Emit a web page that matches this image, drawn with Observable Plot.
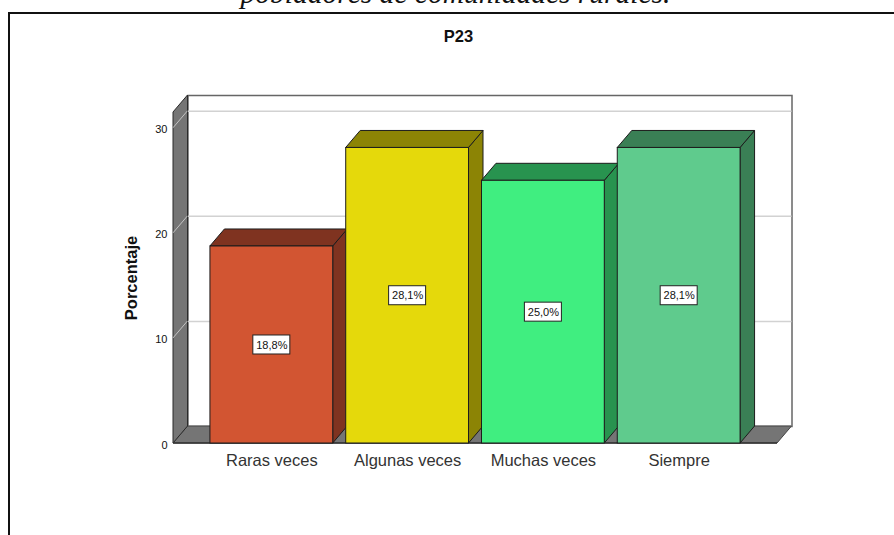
<!DOCTYPE html>
<html lang="es">
<head>
<meta charset="utf-8">
<script src="https://cdn.jsdelivr.net/npm/d3@7"></script>
<script src="https://cdn.jsdelivr.net/npm/@observablehq/plot@0.6"></script>
<style>
html,body{margin:0;padding:0;background:#fff;width:894px;height:535px;overflow:hidden;position:relative}
#panel{position:absolute;left:8px;top:12px;right:-4px;bottom:-4px;border:2px solid #111;box-sizing:border-box;pointer-events:none}
#chart{position:absolute;left:0;top:0}
</style>
</head>
<body>
<div id="chart"></div>
<div id="panel"></div>
<script>
const categories = ["Raras veces", "Algunas veces", "Muchas veces", "Siempre"];
const percentages = [18.75, 28.125, 25.0, 28.125];
const valueLabels = ["18,8%", "28,1%", "25,0%", "28,1%"];
const yTicks = [0, 10, 20, 30];
const frontColors = ["#D25532", "#E5D90B", "#40EE80", "#5FCB8D"];
const topColors = ["#7F3320", "#8C8405", "#28934F", "#3A7F55"];
const wallColor = "#757575";
const edge = "#1c1c1c";
const DX = 14.5, DY = 17;

const rows = categories.map((c, i) => ({
  category: c, value: percentages[i], label: valueLabels[i],
  front: frontColors[i], side: topColors[i]
}));

function poly(g, pts, fill, stroke, sw = 1) {
  g.append("polygon").attr("points", pts.map(p => p.join(",")).join(" "))
    .attr("fill", fill).attr("stroke", stroke).attr("stroke-width", sw).attr("stroke-linejoin", "round");
}

// left wall and floor of the 3-D box, with the grid continued across the wall
function shell(index, {y}, values, {marginLeft: l, marginTop: t, width, marginRight, height, marginBottom}) {
  const g = d3.create("svg:g");
  const r = width - marginRight, b = height - marginBottom;
  poly(g, [[l, b], [l + DX, b - DY], [r + DX, b - DY], [r, b]], wallColor, "#444");
  poly(g, [[l, t], [l + DX, t - DY], [l + DX, b - DY], [l, b]], wallColor, "#2a2a2a");
  for (const v of yTicks.slice(1)) {
    g.append("line").attr("x1", l).attr("y1", y(v)).attr("x2", l + DX).attr("y2", y(v) - DY)
      .attr("stroke", "#c4c4c4").attr("stroke-width", 1);
  }
  g.append("line").attr("x1", l).attr("y1", b).attr("x2", r).attr("y2", b).attr("stroke", "#333").attr("stroke-width", 1.5);
  return g.node();
}

// side and top faces of each bar
function barDepth(index, {x, y}) {
  const g = d3.create("svg:g");
  const w = x.bandwidth();
  for (const d of rows) {
    const x0 = x(d.category), x1 = x0 + w, yT = y(d.value), yB = y(0);
    poly(g, [[x1, yT], [x1 + DX, yT - DY], [x1 + DX, yB - DY], [x1, yB]], d.side, edge);
    poly(g, [[x0, yT], [x0 + DX, yT - DY], [x1 + DX, yT - DY], [x1, yT]], d.side, edge);
  }
  return g.node();
}

// white label boxes
function labelBoxes(index, {x, y}) {
  const g = d3.create("svg:g");
  const w = x.bandwidth();
  for (const d of rows) {
    g.append("rect").attr("x", x(d.category) + w / 2 - 18.5).attr("y", y(d.value / 2) - 9.5)
      .attr("width", 37).attr("height", 19).attr("fill", "#fff").attr("stroke", "#222").attr("stroke-width", 1);
  }
  return g.node();
}

const chart = Plot.plot({
  width: 894, height: 535,
  marginLeft: 173, marginRight: 117, marginTop: 112, marginBottom: 92,
  style: {fontFamily: "'Liberation Sans', Arial, sans-serif", background: "transparent", color: "#111"},
  x: {domain: categories, paddingInner: 0.0956, paddingOuter: 0.272, align: 0.5, round: false, label: null},
  y: {domain: [0, 31.5], label: null},
  marks: [
    Plot.frame({fill: "#fff", stroke: "#666", strokeWidth: 1.5, dx: DX, dy: -DY}),
    Plot.ruleY(yTicks, {stroke: "#d2d2d2", strokeWidth: 1.5, dx: DX, dy: -DY}),
    shell,
    barDepth,
    Plot.barY(rows, {x: "category", y: "value", fill: "front", stroke: edge, strokeWidth: 1}),
    labelBoxes,
    Plot.text(rows, {x: "category", y: d => d.value / 2, text: "label", fontSize: 11, fill: "#111"}),
    Plot.axisX({tickSize: 0, tickPadding: 11, fontSize: 16.5, fill: "#333", label: null}),
    Plot.axisY({ticks: yTicks, tickSize: 0, tickPadding: 6, dy: 1.5, fontSize: 11, fill: "#111", label: null}),
    Plot.text(["Porcentaje"], {frameAnchor: "left", textAnchor: "middle", rotate: -90, dx: -42, fontSize: 16.5, fontWeight: "bold", fill: "#111"}),
    Plot.text(["P23"], {frameAnchor: "top", dx: -17, dy: -76, lineAnchor: "middle", fontSize: 16.5, fontWeight: "bold", fill: "#111"}),
    Plot.text(["pobladores de comunidades rurales."], {frameAnchor: "top", dx: -20, dy: -110, lineAnchor: "bottom",
      fontFamily: "'Liberation Serif', serif", fontStyle: "italic", fontSize: 29.5, fill: "#111"})
  ]
});
document.getElementById("chart").append(chart);
</script>
</body>
</html>
